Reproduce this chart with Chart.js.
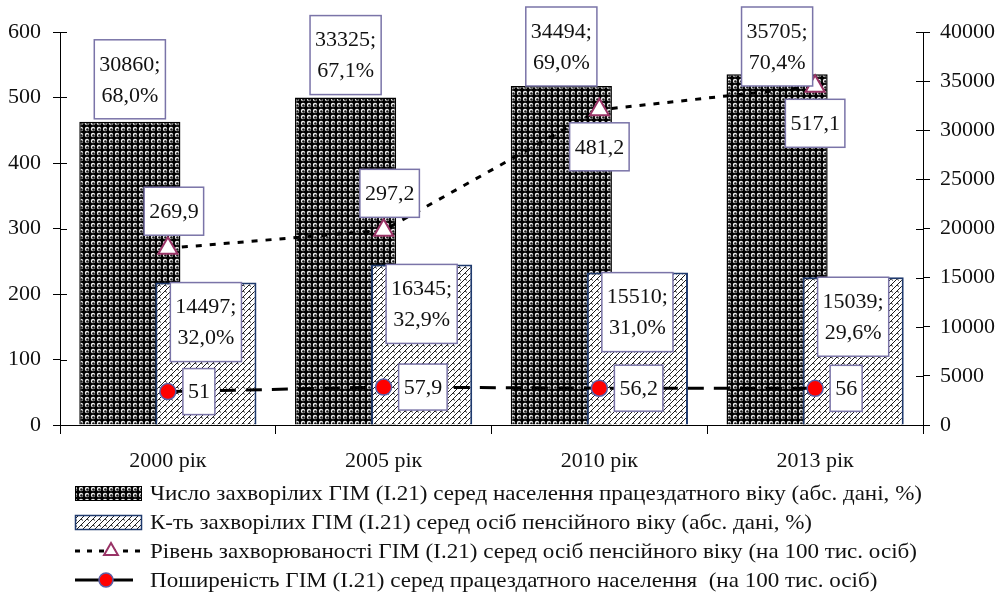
<!DOCTYPE html>
<html>
<head>
<meta charset="utf-8">
<style>
  html, body { margin: 0; padding: 0; background: #fff; }
  #wrap { width: 999px; height: 601px; }
</style>
<script src="https://cdn.jsdelivr.net/npm/chart.js@4"></script>
</head>
<body>
<div id="wrap"><canvas id="chart" width="999" height="601"></canvas></div>
<script>
// Categories
const years = ['2000 рік', '2005 рік', '2010 рік', '2013 рік'];

// Cases among working-age population (abs.) and their share, %
const workingAgeCases = [30860, 33325, 34494, 35705];
const workingAgeShare = [68.0, 67.1, 69.0, 70.4];

// Cases among pension-age population (abs.) and their share, %
const pensionAgeCases = [14497, 16345, 15510, 15039];
const pensionAgeShare = [32.0, 32.9, 31.0, 29.6];

// Incidence among pension-age persons, per 100 thousand
const pensionIncidence = [269.9, 297.2, 481.2, 517.1];

// Prevalence among working-age population, per 100 thousand
const workingPrevalence = [51, 57.9, 56.2, 56];

// Axis ranges
const leftAxis = { min: 0, max: 600, step: 100 };
const rightAxis = { min: 0, max: 40000, step: 5000 };

// Series names
const seriesNames = [
  'Число захворілих ГІМ (І.21) серед населення працездатного віку (абс. дані, %)',
  'К-ть захворілих ГІМ (І.21) серед осіб пенсійного віку (абс. дані, %)',
  'Рівень захворюваності ГІМ (І.21) серед осіб пенсійного віку (на 100 тис. осіб)',
  'Поширеність ГІМ (І.21) серед працездатного населення  (на 100 тис. осіб)'
];

const FONT = "'Liberation Serif', serif";
const canvas = document.getElementById('chart');
const ctx = canvas.getContext('2d');

const fmt = v => String(v).replace('.', ',');
const fmtPct = v => v.toFixed(1).replace('.', ',') + '%';

// Sphere-like fill: light rings on black
function spherePattern() {
  const c = document.createElement('canvas');
  c.width = 6; c.height = 6;
  const g = c.getContext('2d');
  g.fillStyle = '#000';
  g.fillRect(0, 0, 6, 6);
  g.fillStyle = '#f0f0f0';
  g.beginPath(); g.arc(3, 3, 2.2, 0, Math.PI * 2); g.fill();
  g.fillStyle = '#1a1a1a';
  g.beginPath(); g.arc(3.4, 3.5, 1.25, 0, Math.PI * 2); g.fill();
  return ctx.createPattern(c, 'repeat');
}

// Shingle-like fill: rising diagonals with short back-strokes on white
function shinglePattern() {
  const c = document.createElement('canvas');
  c.width = 6; c.height = 6;
  const g = c.getContext('2d');
  g.fillStyle = '#fff';
  g.fillRect(0, 0, 6, 6);
  g.strokeStyle = '#1a1a1a';
  g.lineWidth = 1;
  g.beginPath();
  g.moveTo(-1, 7); g.lineTo(7, -1);
  g.stroke();
  g.lineWidth = 0.9;
  g.beginPath();
  g.moveTo(3, 3); g.lineTo(5, 4.5);
  g.stroke();
  return ctx.createPattern(c, 'repeat');
}

const darkFill = spherePattern();
const hatchFill = shinglePattern();

const DARK = 0, HATCH = 1, TRI = 2, DOT = 3;

// Draw the pension-age bars over the working-age bars while keeping their left/right slots
const barLayering = {
  id: 'barLayering',
  beforeDatasetDraw(chart, args) {
    if (args.index === HATCH) return false;
  },
  afterDatasetDraw(chart, args) {
    if (args.index === DARK) {
      const meta = chart.getDatasetMeta(HATCH);
      if (meta.visible) meta.controller.draw();
    }
  }
};

// Inner halves of the y-axis tick marks
const crossTicks = {
  id: 'crossTicks',
  afterDraw(chart) {
    const c = chart.ctx;
    c.save();
    c.strokeStyle = '#000';
    c.lineWidth = 1;
    ['y', 'y2'].forEach(id => {
      const s = chart.scales[id];
      const x = id === 'y' ? chart.chartArea.left : chart.chartArea.right;
      const dir = id === 'y' ? 1 : -1;
      s.ticks.forEach(t => {
        const py = Math.round(s.getPixelForValue(t.value)) + 0.5;
        c.beginPath();
        c.moveTo(x, py);
        c.lineTo(x + dir * 7, py);
        c.stroke();
      });
    });
    c.restore();
  }
};

function labelBox(c, cx, top, w, h, lines, lineGap) {
  c.fillStyle = '#fff';
  c.fillRect(cx - w / 2, top, w, h);
  c.strokeStyle = '#7a74a8';
  c.lineWidth = 1.5;
  c.strokeRect(cx - w / 2, top, w, h);
  c.fillStyle = '#111';
  c.textAlign = 'center';
  c.textBaseline = 'middle';
  const mid = top + h / 2;
  const n = lines.length;
  lines.forEach((s, i) => {
    c.fillText(s, cx, mid + (i - (n - 1) / 2) * lineGap + 1);
  });
}

function textWidth(c, lines) {
  return Math.max(...lines.map(s => c.measureText(s).width));
}

// Value boxes
const valueBoxes = {
  id: 'valueBoxes',
  afterDatasetsDraw(chart) {
    const c = chart.ctx;
    c.save();
    c.font = '22px ' + FONT;
    const top0 = chart.chartArea.top;

    chart.getDatasetMeta(DARK).data.forEach((bar, i) => {
      const lines = [fmt(workingAgeCases[i]) + ';', fmtPct(workingAgeShare[i])];
      const w = textWidth(c, lines) + 10;
      const h = 79;
      const top = Math.max(top0 - 25, bar.y - 3 - h);
      labelBox(c, bar.x, top, w, h, lines, 31);
    });

    chart.getDatasetMeta(HATCH).data.forEach((bar, i) => {
      const lines = [fmt(pensionAgeCases[i]) + ';', fmtPct(pensionAgeShare[i])];
      const w = textWidth(c, lines) + 10;
      labelBox(c, bar.x, bar.y, w, 79, lines, 31);
    });

    const triSide = ['above', 'above', 'below', 'below'];
    chart.getDatasetMeta(TRI).data.forEach((pt, i) => {
      const lines = [fmt(pensionIncidence[i])];
      const w = textWidth(c, lines) + 10;
      const h = 48;
      const cy = triSide[i] === 'above' ? pt.y - 37 : pt.y + 37;
      const cx = triSide[i] === 'above' ? pt.x + 6 : pt.x;
      labelBox(c, cx, cy - h / 2, w, h, lines, 0);
    });

    chart.getDatasetMeta(DOT).data.forEach((pt, i) => {
      const lines = [fmt(workingPrevalence[i])];
      const w = textWidth(c, lines) + 10;
      const h = 46;
      labelBox(c, pt.x + 15 + w / 2, pt.y - h / 2, w, h, lines, 0);
    });
    c.restore();
  }
};

// Legend below the plot, one series per row
const rowLegend = {
  id: 'rowLegend',
  afterDraw(chart) {
    const c = chart.ctx;
    const x0 = 75, x1 = 142, tx = 150;
    const rowY = [493, 522, 551, 580];
    c.save();
    // bars
    c.fillStyle = darkFill;
    c.fillRect(x0, rowY[0] - 7, x1 - x0, 15);
    c.strokeStyle = '#000'; c.lineWidth = 1;
    c.strokeRect(x0 + 0.5, rowY[0] - 6.5, x1 - x0 - 1, 14);
    c.fillStyle = hatchFill;
    c.fillRect(x0, rowY[1] - 7, x1 - x0, 15);
    c.strokeStyle = '#1f3a6e'; c.lineWidth = 1.5;
    c.strokeRect(x0 + 0.5, rowY[1] - 6.5, x1 - x0 - 1, 14);
    // dashed line with triangle
    c.strokeStyle = '#000'; c.lineWidth = 3;
    c.setLineDash([5, 7]);
    c.beginPath(); c.moveTo(x0, rowY[2]); c.lineTo(x1, rowY[2]); c.stroke();
    c.setLineDash([]);
    c.fillStyle = '#fff'; c.strokeStyle = '#993366'; c.lineWidth = 2;
    c.beginPath();
    const r = 8;
    c.moveTo(111, rowY[2] - r);
    c.lineTo(111 + r * 0.866, rowY[2] + r / 2);
    c.lineTo(111 - r * 0.866, rowY[2] + r / 2);
    c.closePath(); c.fill(); c.stroke();
    // line with dot
    c.strokeStyle = '#000'; c.lineWidth = 3;
    c.beginPath(); c.moveTo(x0, rowY[3]); c.lineTo(133, rowY[3]); c.stroke();
    c.fillStyle = '#ff0000'; c.strokeStyle = '#5b5fa6'; c.lineWidth = 1.5;
    c.beginPath(); c.arc(106, rowY[3], 7, 0, Math.PI * 2); c.fill(); c.stroke();
    // texts
    c.font = '21px ' + FONT;
    c.fillStyle = '#111';
    c.textAlign = 'left';
    c.textBaseline = 'middle';
    const target = 772;
    const sx = target / c.measureText(seriesNames[0]).width;
    seriesNames.forEach((s, i) => {
      c.save();
      c.translate(tx, rowY[i] + 1);
      c.scale(sx, 1);
      c.fillText(s, 0, 0);
      c.restore();
    });
    c.restore();
  }
};

const tickFont = { family: FONT, size: 22 };
const plainTick = v => String(v);

new Chart(canvas, {
  data: {
    labels: years,
    datasets: [
      {
        type: 'bar',
        label: seriesNames[0],
        data: workingAgeCases,
        yAxisID: 'y2',
        backgroundColor: darkFill,
        borderColor: '#000',
        borderWidth: 1.5,
        categoryPercentage: 0.705,
        barPercentage: 1.33,
        order: 0
      },
      {
        type: 'bar',
        label: seriesNames[1],
        data: pensionAgeCases,
        yAxisID: 'y2',
        backgroundColor: hatchFill,
        borderColor: '#1f3a6e',
        borderWidth: 2,
        categoryPercentage: 0.705,
        barPercentage: 1.33,
        order: 0
      },
      {
        type: 'line',
        label: seriesNames[2],
        data: pensionIncidence,
        yAxisID: 'y',
        borderColor: '#000',
        borderWidth: 3,
        borderDash: [6, 8],
        pointStyle: 'triangle',
        pointRadius: 11,
        pointHoverRadius: 11,
        pointBackgroundColor: '#fff',
        pointBorderColor: '#993366',
        pointBorderWidth: 2,
        tension: 0,
        order: -1
      },
      {
        type: 'line',
        label: seriesNames[3],
        data: workingPrevalence,
        yAxisID: 'y',
        borderColor: '#000',
        borderWidth: 3,
        borderDash: [16, 10],
        pointStyle: 'circle',
        pointRadius: 8,
        pointHoverRadius: 8,
        pointBackgroundColor: '#ff0000',
        pointBorderColor: '#5b5fa6',
        pointBorderWidth: 1.5,
        tension: 0,
        order: -1
      }
    ]
  },
  options: {
    responsive: false,
    animation: false,
    devicePixelRatio: 1,
    layout: { padding: { top: 32, bottom: 126, left: 0, right: 0 } },
    plugins: {
      legend: { display: false },
      tooltip: { enabled: false }
    },
    scales: {
      x: {
        offset: true,
        grid: { offset: true, drawOnChartArea: false, tickLength: 9, color: '#000', lineWidth: 1 },
        border: { color: '#000', width: 1 },
        ticks: { font: tickFont, color: '#111', padding: 14, maxRotation: 0 },
        afterFit(s) { s.height = 50; }
      },
      y: {
        position: 'left',
        min: leftAxis.min,
        max: leftAxis.max,
        grid: { drawOnChartArea: false, tickLength: 7, color: '#000' },
        border: { color: '#000', width: 1 },
        ticks: { stepSize: leftAxis.step, font: tickFont, color: '#111', padding: 12, callback: plainTick },
        afterFit(s) { s.width = 60; }
      },
      y2: {
        position: 'right',
        min: rightAxis.min,
        max: rightAxis.max,
        grid: { drawOnChartArea: false, tickLength: 7, color: '#000' },
        border: { color: '#000', width: 1 },
        ticks: { stepSize: rightAxis.step, font: tickFont, color: '#111', padding: 10, callback: plainTick },
        afterFit(s) { s.width = 76; }
      }
    }
  },
  plugins: [barLayering, valueBoxes, crossTicks, rowLegend]
});
</script>
</body>
</html>
